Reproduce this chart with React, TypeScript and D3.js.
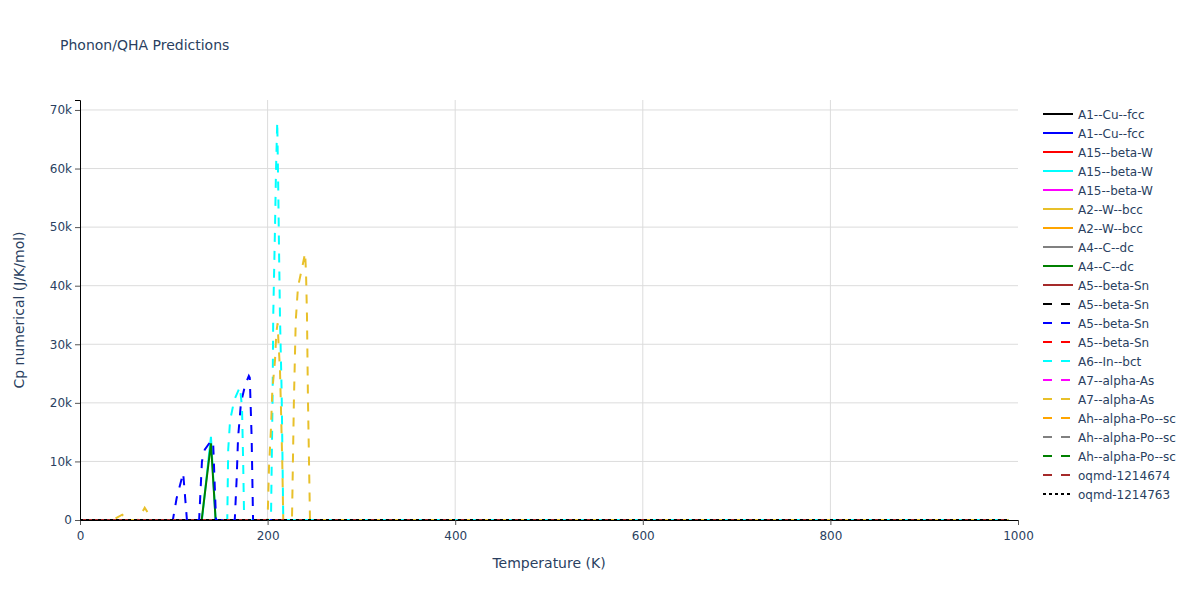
import React, { useEffect, useRef } from 'react';
import * as d3 from 'd3';

// legend / trace order as in the reference
const seriesNames = [
  'A1--Cu--fcc', 'A1--Cu--fcc', 'A15--beta-W', 'A15--beta-W', 'A15--beta-W',
  'A2--W--bcc', 'A2--W--bcc', 'A4--C--dc', 'A4--C--dc', 'A5--beta-Sn',
  'A5--beta-Sn', 'A5--beta-Sn', 'A5--beta-Sn', 'A6--In--bct', 'A7--alpha-As',
  'A7--alpha-As', 'Ah--alpha-Po--sc', 'Ah--alpha-Po--sc', 'Ah--alpha-Po--sc',
  'oqmd-1214674', 'oqmd-1214763',
];
const seriesColors = [
  'black', 'blue', 'red', 'cyan', 'magenta', '#e8c02a', 'orange', 'gray', 'green', 'brown',
  'black', 'blue', 'red', 'cyan', 'magenta', '#e8c02a', 'orange', 'gray', 'green', 'brown',
  'black',
];
const seriesDash = [
  'solid', 'solid', 'solid', 'solid', 'solid', 'solid', 'solid', 'solid', 'solid', 'solid',
  'dash', 'dash', 'dash', 'dash', 'dash', 'dash', 'dash', 'dash', 'dash', 'dash',
  'dot',
];

// flat traces (Cp ~ 0 on this scale)
const flatTemps = [0, 100, 200, 300, 500, 700, 990];
const flatCp = [0, 0, 0, 0, 0, 0, 0];

// A15--beta-W (cyan, solid)
const betaWTemps = [0, 130, 139.6, 144.6, 990];
const betaWCp = [0, 0, 14200, 0, 0];

// A4--C--dc (green, solid)
const diamondTemps = [0, 129.7, 139.6, 144.6, 990];
const diamondCp = [0, 0, 13100, 0, 0];

// A5--beta-Sn (blue, dashed)
const betaSnTemps = [0, 99, 103, 107.5, 110, 114, 127, 130, 133, 140, 142, 145, 165, 167, 168.5, 171.6, 176, 180, 181, 183, 184.5, 990];
const betaSnCp = [0, 0, 3700, 6500, 8000, 0, 0, 10000, 12000, 13600, 13000, 0, 0, 7000, 14000, 20000, 23000, 24600, 24300, 14000, 0, 0];

// A6--In--bct (cyan, dashed)
const inBctTemps = [0, 157, 158, 160, 164.5, 170.5, 172.7, 174, 175, 203.6, 205.4, 206, 207.9, 209, 210.3, 211.4, 212.2, 213.2, 215, 216.7, 990];
const inBctCp = [0, 0, 12000, 17000, 20500, 22700, 19300, 9500, 0, 0, 22000, 34700, 50000, 60000, 68000, 56000, 46000, 34700, 21700, 0, 0];

// A7--alpha-As (gold, dashed)
const alphaAsTemps = [0, 35, 45, 50, 62, 69, 77, 200, 201.5, 203.6, 205, 207.9, 209.3, 210.7, 211.4, 213.2, 214.3, 215.7, 216.7, 226, 228, 230, 232.4, 236.7, 240, 241, 242, 243, 245.2, 990];
const alphaAsCp = [0, 0, 900, 0, 0, 2100, 0, 0, 9000, 15700, 22000, 27300, 32000, 33600, 31000, 25600, 18800, 9400, 0, 0, 20000, 34000, 39800, 43000, 45600, 42000, 34700, 21000, 0, 0];

const seriesTemps = [
  flatTemps, flatTemps, flatTemps, betaWTemps, flatTemps, flatTemps, flatTemps, flatTemps, diamondTemps, flatTemps,
  flatTemps, betaSnTemps, flatTemps, inBctTemps, flatTemps, alphaAsTemps, flatTemps, flatTemps, flatTemps, flatTemps,
  flatTemps,
];
const seriesCp = [
  flatCp, flatCp, flatCp, betaWCp, flatCp, flatCp, flatCp, flatCp, diamondCp, flatCp,
  flatCp, betaSnCp, flatCp, inBctCp, flatCp, alphaAsCp, flatCp, flatCp, flatCp, flatCp,
  flatCp,
];

const xTicks = [0, 200, 400, 600, 800, 1000];
const yTicks = [0, 10000, 20000, 30000, 40000, 50000, 60000, 70000];

const dashArray: Record<string, string | null> = { solid: null, dash: '9,9', dot: '3,3' };
const font = '"DejaVu Sans", Verdana, sans-serif';
const textColor = '#2a3f5f';

const App: React.FC = () => {
  const ref = useRef<SVGSVGElement>(null);

  useEffect(() => {
    if (!ref.current) return;
    const svg = d3.select(ref.current);
    svg.selectAll('*').remove();

    const margin = { top: 100, left: 80, right: 182, bottom: 80 };
    const width = 1200 - margin.left - margin.right;
    const height = 600 - margin.top - margin.bottom;

    const x = d3.scaleLinear().domain([0, 1000]).range([0, width]);
    const y = d3.scaleLinear().domain([0, 71700]).range([height, 0]);

    svg.append('rect').attr('width', 1200).attr('height', 600).attr('fill', 'white');

    svg.append('text')
      .attr('x', 60).attr('y', 50)
      .style('font-family', font).style('font-size', '14px').attr('fill', textColor)
      .text('Phonon/QHA Predictions');

    const g = svg.append('g').attr('transform', `translate(${margin.left},${margin.top})`);

    // grid
    g.append('g').selectAll('line').data(xTicks.filter(t => t > 0 && t < 1000)).join('line')
      .attr('x1', d => x(d)).attr('x2', d => x(d)).attr('y1', 0).attr('y2', height)
      .attr('stroke', '#dcdcdc').attr('stroke-width', 1);
    g.append('g').selectAll('line').data(yTicks.filter(t => t > 0)).join('line')
      .attr('x1', 0).attr('x2', width).attr('y1', d => y(d)).attr('y2', d => y(d))
      .attr('stroke', '#dcdcdc').attr('stroke-width', 1);

    // traces
    svg.append('defs').append('clipPath').attr('id', 'plot-clip')
      .append('rect').attr('width', width).attr('height', height + 2).attr('y', -1);
    const traces = g.append('g').attr('clip-path', 'url(#plot-clip)');
    const line = d3.line<[number, number]>().x(d => x(d[0])).y(d => y(d[1]));
    seriesNames.forEach((_, i) => {
      const pts = seriesTemps[i].map((t, j) => [t, seriesCp[i][j]] as [number, number]);
      traces.append('path')
        .datum(pts)
        .attr('fill', 'none')
        .attr('stroke', seriesColors[i])
        .attr('stroke-width', 2)
        .attr('stroke-dasharray', dashArray[seriesDash[i]])
        .attr('d', line);
    });

    // axes
    const xAxis = g.append('g').attr('transform', `translate(0,${height})`);
    xAxis.call(d3.axisBottom(x).tickValues(d3.range(0, 1001, 50)).tickSize(4).tickFormat(() => ''));
    xAxis.call(d3.axisBottom(x).tickValues(xTicks).tickSize(5).tickFormat(d3.format('d')));
    xAxis.selectAll('path').attr('stroke', 'black');
    xAxis.selectAll('line').attr('stroke', '#555');
    xAxis.selectAll('text').style('font-family', font).style('font-size', '12px').attr('fill', textColor).attr('dy', '1em');

    const yAxis = g.append('g');
    yAxis.call(d3.axisLeft(y).tickValues(d3.range(0, 71000, 2000)).tickSize(4).tickFormat(() => ''));
    yAxis.call(d3.axisLeft(y).tickValues(yTicks).tickSize(5).tickFormat(d => (+d === 0 ? '0' : `${+d / 1000}k`)));
    yAxis.selectAll('path').attr('stroke', 'black');
    yAxis.selectAll('line').attr('stroke', '#555');
    yAxis.selectAll('text').style('font-family', font).style('font-size', '12px').attr('fill', textColor);

    // axis titles
    svg.append('text')
      .attr('x', margin.left + width / 2).attr('y', 568)
      .attr('text-anchor', 'middle')
      .style('font-family', font).style('font-size', '14px').attr('fill', textColor)
      .text('Temperature (K)');
    svg.append('text')
      .attr('transform', `translate(24,${margin.top + height / 2}) rotate(-90)`)
      .attr('text-anchor', 'middle')
      .style('font-family', font).style('font-size', '14px').attr('fill', textColor)
      .text('Cp numerical (J/K/mol)');

    // legend
    const legend = svg.append('g').attr('transform', 'translate(1043,114)');
    seriesNames.forEach((name, i) => {
      const row = legend.append('g').attr('transform', `translate(0,${i * 19})`);
      row.append('line')
        .attr('x1', 0).attr('x2', 30).attr('y1', 0).attr('y2', 0)
        .attr('stroke', seriesColors[i]).attr('stroke-width', 2)
        .attr('stroke-dasharray', dashArray[seriesDash[i]]);
      row.append('text')
        .attr('x', 35).attr('y', 4.5)
        .style('font-family', font).style('font-size', '12px').attr('fill', textColor)
        .text(name);
    });
  }, []);

  return <svg ref={ref} width={1200} height={600} style={{ display: 'block', position: 'absolute', left: 0, top: 0 }} />;
};

export default App;
